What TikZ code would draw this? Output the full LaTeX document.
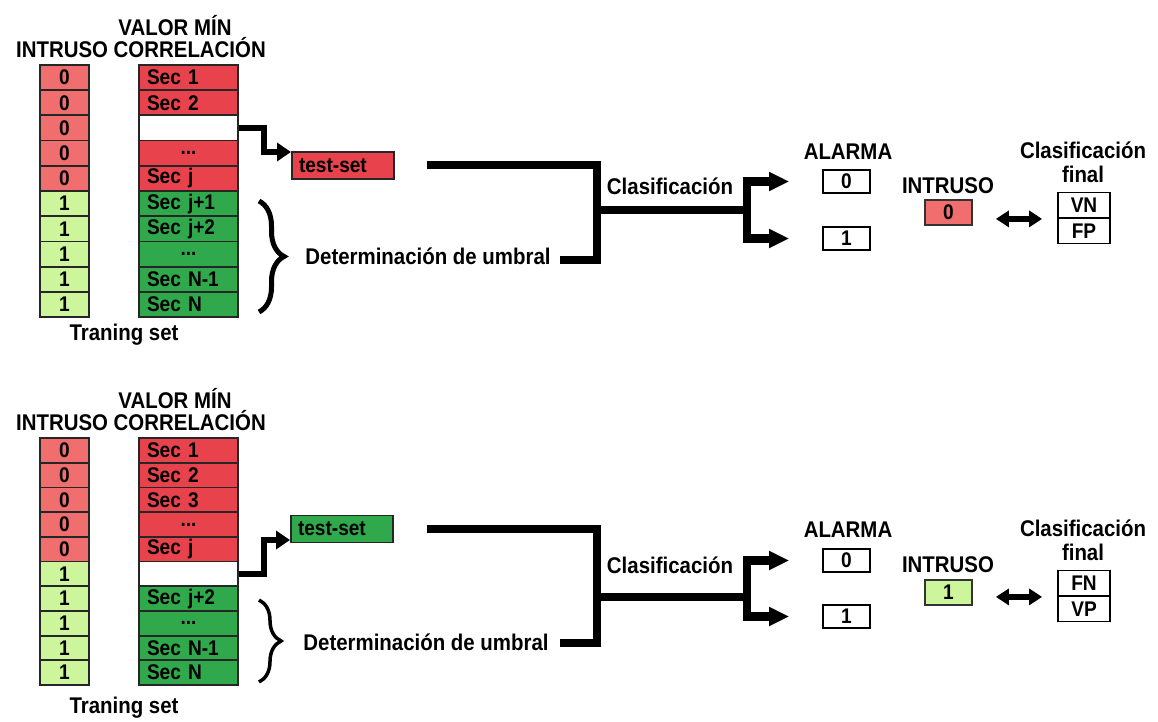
\documentclass[tikz,border=0pt]{standalone}
\usepackage{fontspec}
\setmainfont{Liberation Sans}[FakeStretch=0.9]
\usetikzlibrary{arrows.meta,decorations.pathreplacing,calc}
\definecolor{redA}{HTML}{F06E6E}
\definecolor{redB}{HTML}{E8434D}
\definecolor{greenA}{HTML}{CCF59C}
\definecolor{greenB}{HTML}{30A94C}
\newcommand\celldots{...}
\begin{document}
\begin{tikzpicture}[x=1pt,y=-1pt,
  every node/.style={inner sep=0pt, font=\fontsize{22.7}{25}\selectfont\bfseries},
  lbl/.style={},
  celltxt/.style={font=\fontsize{21.2}{23}\selectfont\bfseries},
  cellA/.style={celltxt, draw=black!85, line width=1.8pt, minimum width=49pt, minimum height=25.2pt},
  cellB/.style={celltxt, draw=black!85, line width=1.8pt, minimum width=99pt, minimum height=25.2pt, text width=83pt},
  smallbox/.style={celltxt, draw=black, line width=1.8pt, minimum width=47pt, minimum height=23pt},
  tsbox/.style={celltxt, draw=black!85, line width=1.8pt, minimum width=102pt, minimum height=27pt, text width=88pt, align=left},
  finbox/.style={celltxt, draw=black, line width=1.8pt, minimum width=52pt, minimum height=25.5pt},
  zarrow/.style={line width=6.5pt, line join=miter, -{Triangle[length=14pt,width=18pt]}},
  forkline/.style={line width=8.5pt, line join=miter},
  forkarrow/.style={line width=8.5pt, line join=miter, -{Triangle[length=20pt,width=18pt]}},
  dblarrow/.style={line width=6pt, {Triangle[length=13pt,width=16pt]}-{Triangle[length=13pt,width=16pt]}},
  bracedeco/.style={decorate, decoration={brace, amplitude=#1}}
]
\useasboundingbox (0,0) rectangle (1158,722);

% ================= TOP PANEL =================
\node[lbl] (thv) at (175,26) {VALOR MÍN};
\node[lbl] (thc) at (141,48) {INTRUSO CORRELACIÓN};
\foreach \k/\v/\t/\fa/\fb/\al in {1/0/Sec 1/redA/redB/left, 2/0/Sec 2/redA/redB/left, 3/0/{}/redA/white/left, 4/0/\celldots/redA/redB/center, 5/0/Sec j/redA/redB/left, 6/1/Sec j+1/greenA/greenB/left, 7/1/Sec j+2/greenA/greenB/left, 8/1/\celldots/greenA/greenB/center, 9/1/Sec N-1/greenA/greenB/left, 10/1/Sec N/greenA/greenB/left}{
  \pgfmathsetmacro\yy{65+25.2*(\k-0.5)}
  \node[cellA, fill=\fa] (ti\k) at (64.5,\yy) {\v};
  \node[cellB, fill=\fb, align=\al] (tc\k) at (188.5,\yy) {\t};
}
\node[lbl] (ttr) at (124,335) {Traning set};
\node[tsbox, fill=redB] (tts) at (343,165.5) {test-set};
\coordinate (tta) at (291,152);
\draw[zarrow] (tc3.east) -- ++(25,0) |- (tta);
\draw[bracedeco=25pt, line width=5pt] (259,201) -- (259,312);
\node[lbl] (tdu) at (428,256) {Determinación de umbral};
\coordinate (tf1) at (427,165);
\coordinate (tfm) at (597,210);
\coordinate (tf2) at (560,260);
\draw[forkline] (tf1) -| (tfm) |- (tf2);
\coordinate (tfj) at (747,210);
\draw[forkline] (tfm) -- (tfj);
\node[lbl] (tcl) at (670,186) {Clasificación};
\node[lbl] (tal) at (848,152) {ALARMA};
\node[smallbox] (ta0) at (846.5,181.5) {0};
\node[smallbox] (ta1) at (846.5,238.5) {1};
\draw[forkarrow, shorten >=33pt] (tfj) |- (ta0.west);
\draw[forkarrow, shorten >=33pt] (tfj) |- (ta1.west);
\node[lbl] (tin) at (948,186) {INTRUSO};
\node[smallbox, fill=redA, minimum height=25pt, draw=black!80] (tib) at (948.5,212.5) {0};
\node[lbl] (tcf1) at (1083,150) {Clasificación};
\node[lbl] (tcf2) at (1083,174) {final};
\node[finbox] (tvn) at (1084,205.25) {VN};
\node[finbox] (tfp) at (1084,230.75) {FP};
\draw[dblarrow, shorten <=23pt, shorten >=15pt] (tib.east |- tvn.south) -- (tvn.south west);

% ================= BOTTOM PANEL =================
\node[lbl] (bhv) at (175,399) {VALOR MÍN};
\node[lbl] (bhc) at (141,421) {INTRUSO CORRELACIÓN};
\foreach \k/\v/\t/\fa/\fb/\al in {1/0/Sec 1/redA/redB/left, 2/0/Sec 2/redA/redB/left, 3/0/Sec 3/redA/redB/left, 4/0/\celldots/redA/redB/center, 5/0/Sec j/redA/redB/left, 6/1/{}/greenA/white/left, 7/1/Sec j+2/greenA/greenB/left, 8/1/\celldots/greenA/greenB/center, 9/1/Sec N-1/greenA/greenB/left, 10/1/Sec N/greenA/greenB/left}{
  \pgfmathsetmacro\yy{438+24.7*(\k-0.5)}
  \node[cellA, fill=\fa, minimum height=24.7pt] (bi\k) at (64.5,\yy) {\v};
  \node[cellB, fill=\fb, align=\al, minimum height=24.7pt] (bc\k) at (188.5,\yy) {\t};
}
\node[lbl] (btr) at (124,708) {Traning set};
\node[tsbox, fill=greenB] (bts) at (342,529) {test-set};
\coordinate (bta) at (290,540);
\draw[zarrow] (bc6.east) -- ++(25,0) |- (bta);
\draw[bracedeco=22pt, line width=3.5pt] (259,600) -- (259,682);
\node[lbl] (bdu) at (426,642) {Determinación de umbral};
\coordinate (bf1) at (427,529);
\coordinate (bfm) at (597,597);
\coordinate (bf2) at (560,643);
\draw[forkline] (bf1) -| (bfm) |- (bf2);
\coordinate (bfj) at (747,597);
\draw[forkline] (bfm) -- (bfj);
\node[lbl] (bcl) at (670,565) {Clasificación};
\node[lbl] (bal) at (848,530) {ALARMA};
\node[smallbox] (ba0) at (846.5,560.5) {0};
\node[smallbox] (ba1) at (846.5,616.5) {1};
\draw[forkarrow, shorten >=33pt] (bfj) |- (ba0.west);
\draw[forkarrow, shorten >=33pt] (bfj) |- (ba1.west);
\node[lbl] (bin) at (948,565) {INTRUSO};
\node[smallbox, fill=greenA, minimum height=25pt, draw=black!80] (bib) at (948.5,592.5) {1};
\node[lbl] (bcf1) at (1083,528) {Clasificación};
\node[lbl] (bcf2) at (1083,552) {final};
\node[finbox] (bfn) at (1084,583.25) {FN};
\node[finbox] (bvp) at (1084,608.75) {VP};
\draw[dblarrow, shorten <=23pt, shorten >=15pt] (bib.east |- bfn.south) -- (bfn.south west);
\end{tikzpicture}
\end{document}
